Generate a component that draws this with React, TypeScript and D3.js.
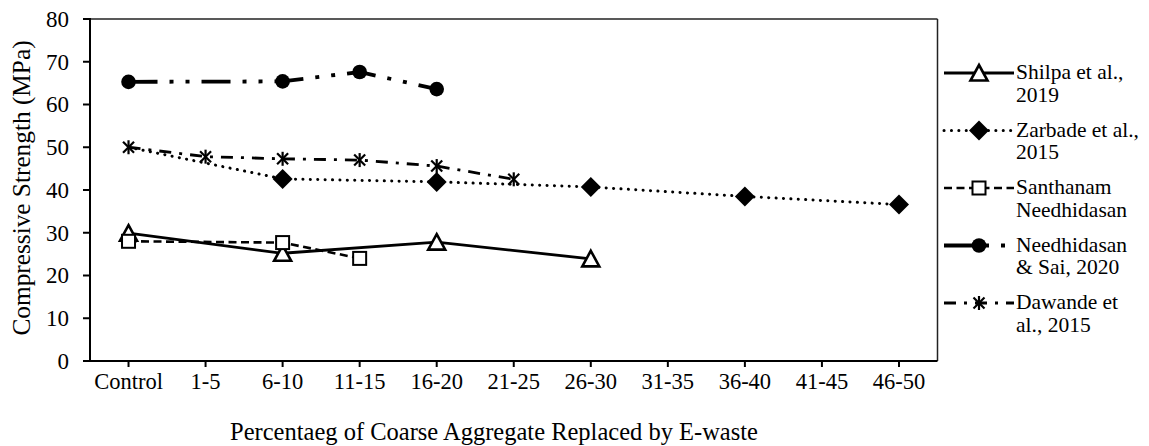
import React from "react";
import * as d3 from "d3";

const categories = ["Control", "1-5", "6-10", "11-15", "16-20", "21-25", "26-30", "31-35", "36-40", "41-45", "46-50"];
const yTicks = [0, 10, 20, 30, 40, 50, 60, 70, 80];

const shilpa = [29.9, null, 25.2, null, 27.8, null, 23.9, null, null, null, null];
const zarbade = [50.0, null, 42.6, null, 41.9, null, 40.7, null, 38.5, null, 36.6];
const santhanam = [28.0, null, 27.7, 24.0, null, null, null, null, null, null, null];
const needhidasanSai = [65.3, null, 65.4, 67.6, 63.6, null, null, null, null, null, null];
const dawande = [50.0, 47.8, 47.3, 47.0, 45.6, 42.5, null, null, null, null, null];

const seriesNames = [
  ["Shilpa et al.,", "2019"],
  ["Zarbade et al.,", "2015"],
  ["Santhanam", "Needhidasan"],
  ["Needhidasan", "& Sai, 2020"],
  ["Dawande et", "al., 2015"],
];

const FONT = "'Liberation Serif', 'Times New Roman', serif";

type Style = { dash: string; width: number; cap: "butt" | "round"; marker: string; hideMarkers?: number[] };
const styles: Style[] = [
  { dash: "none", width: 2.8, cap: "butt", marker: "triangle" },
  { dash: "0.1 7.3", width: 3, cap: "round", marker: "diamond", hideMarkers: [0] },
  { dash: "8 4.5", width: 2.6, cap: "butt", marker: "square" },
  { dash: "29 12 4 12 4 12", width: 3.8, cap: "butt", marker: "circle" },
  { dash: "12 8 3 8", width: 2.8, cap: "butt", marker: "asterisk" },
];
const seriesData = [shilpa, zarbade, santhanam, needhidasanSai, dawande];

function Marker({ type, x, y }: { type: string; x: number; y: number }) {
  if (type === "triangle") {
    return <path d={`M${x},${y - 8} L${x + 8.5},${y + 7.5} L${x - 8.5},${y + 7.5} Z`} fill="#fff" stroke="#000" strokeWidth={2.6} strokeLinejoin="miter" />;
  }
  if (type === "diamond") {
    return <path d={`M${x},${y - 10} L${x + 10},${y} L${x},${y + 10} L${x - 10},${y} Z`} fill="#000" />;
  }
  if (type === "square") {
    return <rect x={x - 6.5} y={y - 6.5} width={13} height={13} fill="#fff" stroke="#000" strokeWidth={2} />;
  }
  if (type === "circle") {
    return <circle cx={x} cy={y} r={7.3} fill="#000" />;
  }
  const s = 5.5;
  return (
    <g stroke="#000" strokeWidth={2.2}>
      <line x1={x - s} y1={y - s} x2={x + s} y2={y + s} />
      <line x1={x - s} y1={y + s} x2={x + s} y2={y - s} />
      <line x1={x} y1={y - s - 1.5} x2={x} y2={y + s + 1.5} />
    </g>
  );
}

export default function App() {
  const left = 90, right = 937.5, top = 19, bottom = 361;
  const x = d3.scaleBand<string>().domain(categories).range([left, right]).paddingInner(0).paddingOuter(0);
  const cx = (c: string) => (x(c) as number) + x.bandwidth() / 2;
  const y = d3.scaleLinear().domain([0, 80]).range([bottom, top]);

  const lineGen = d3
    .line<{ c: string; v: number }>()
    .x((d) => cx(d.c))
    .y((d) => y(d.v));

  const legendX0 = 944, legendX1 = 1014, legendMid = 979, legendText = 1016;
  const legendY = [73, 130.5, 188, 245.5, 303];

  return (
    <svg width={1149} height={446} style={{ position: "absolute", left: 0, top: 0, background: "#fff" }} fontFamily={FONT}>
      <rect x={0} y={0} width={1149} height={446} fill="#fff" />
      <line x1={left} y1={top} x2={right} y2={top} stroke="#222" strokeWidth={1.5} />
      <line x1={right} y1={top} x2={right} y2={bottom} stroke="#222" strokeWidth={1.5} />
      <line x1={left} y1={top - 1} x2={left} y2={bottom + 1} stroke="#000" strokeWidth={2} />
      {yTicks.map((t) => (
        <g key={t}>
          <line x1={left - 7} x2={left} y1={y(t)} y2={y(t)} stroke="#000" strokeWidth={2} />
          <text x={69} y={y(t)} dy="0.34em" textAnchor="end" fontSize={23}>
            {t}
          </text>
        </g>
      ))}
      <line x1={left - 7} x2={right} y1={bottom} y2={bottom} stroke="#000" strokeWidth={2} />
      {categories.map((c) => (
        <g key={c}>
          <line x1={cx(c)} x2={cx(c)} y1={bottom} y2={bottom + 6} stroke="#000" strokeWidth={2} />
          <text x={cx(c)} y={389} textAnchor="middle" fontSize={22.5}>
            {c}
          </text>
        </g>
      ))}
      <text x={494} y={440} textAnchor="middle" fontSize={24.5}>
        Percentaeg of Coarse Aggregate Replaced by E-waste
      </text>
      <text transform={`translate(30,188) rotate(-90)`} textAnchor="middle" fontSize={25.3}>
        Compressive Strength (MPa)
      </text>

      {seriesData.map((data, si) => {
        const st = styles[si];
        const pts = data
          .map((v, i) => ({ c: categories[i], v: v as number, i }))
          .filter((d) => data[d.i] !== null);
        return (
          <g key={si}>
            <path
              d={lineGen(pts) || ""}
              fill="none"
              stroke="#000"
              strokeWidth={st.width}
              strokeDasharray={st.dash}
              strokeLinecap={st.cap}
            />
            {pts
              .filter((p) => !(st.hideMarkers || []).includes(p.i))
              .map((p) => (
                <Marker key={p.i} type={st.marker} x={cx(p.c)} y={y(p.v)} />
              ))}
          </g>
        );
      })}

      {seriesNames.map((names, si) => {
        const st = styles[si];
        const ly = legendY[si];
        return (
          <g key={si}>
            <line
              x1={legendX0}
              x2={legendX1}
              y1={ly}
              y2={ly}
              stroke="#000"
              strokeWidth={st.width}
              strokeDasharray={st.dash}
              strokeLinecap={st.cap}
            />
            <Marker type={st.marker} x={legendMid} y={ly} />
            <text x={legendText} y={ly} dy="0.3em" fontSize={21.5}>
              {names[0]}
            </text>
            <text x={legendText} y={ly + 22.5} dy="0.3em" fontSize={21.5}>
              {names[1]}
            </text>
          </g>
        );
      })}
    </svg>
  );
}
